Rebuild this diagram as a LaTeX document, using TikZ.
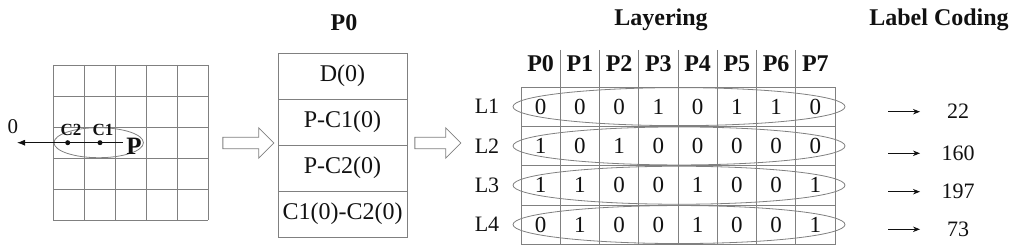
\documentclass[tikz,border=0pt]{standalone}
\usepackage{fontspec}
\setmainfont{Liberation Serif}
\usetikzlibrary{arrows.meta,positioning,shapes.arrows}
\usepackage{xcolor}
\definecolor{LineGray}{HTML}{808080}
\definecolor{Ink}{HTML}{111111}

\begin{document}
\begin{tikzpicture}[
  x=1pt, y=-1pt, line width=0.8pt,
  cell/.style={draw=LineGray, minimum width=39.25pt, minimum height=39.3pt,
               inner sep=0pt, outer sep=0pt, text=Ink, font=\fontsize{23}{23}\selectfont},
  prow/.style={draw=LineGray, minimum width=129pt, minimum height=46pt,
               inner sep=0pt, outer sep=0pt, text=Ink, font=\fontsize{24}{24}\selectfont},
  head/.style={text=Ink, font=\fontsize{24}{24}\selectfont\bfseries},
  lyr/.style={text=Ink, font=\fontsize{22}{22}\selectfont},
  small/.style={text=Ink, font=\fontsize{17}{17}\selectfont\bfseries},
  bigarrow/.style={draw=LineGray, single arrow, single arrow head extend=9.5pt,
                   single arrow tip angle=90, minimum height=51pt, inner sep=5.3pt}
]
  \useasboundingbox (0,0) rectangle (1024,248);

  %% Pixel grid (left)
  \foreach \i in {0,...,5} {
    \draw[LineGray] (53+31*\i,65) -- (53+31*\i,220);
    \draw[LineGray] (53,65+31*\i) -- (208,65+31*\i);
  }
  \draw[LineGray] (98.7,142.7) ellipse (44.7pt and 15pt);
  \coordinate (c2) at (67.7,142.7);
  \coordinate (c1) at (100,142.7);
  \coordinate (zero) at (17,142.7);
  \fill[Ink] (c2) circle (2.5pt);
  \fill[Ink] (c1) circle (2.5pt);
  \node[small] (c2lbl) at (71,130) {C2};
  \node[small] (c1lbl) at (103,130) {C1};
  \node[text=Ink, font=\fontsize{25}{25}\selectfont\bfseries] (pnt) at (134,146) {P};
  \node[text=Ink, font=\fontsize{21}{21}\selectfont] (zerolbl) at (13,127) {0};
  \draw[Ink, -{Latex[length=8pt,width=6pt]}] (pnt.west |- c1) -- (zero);

  %% Hollow arrows
  \node[bigarrow] (arr1) at (245.5,143) {};
  \node[bigarrow, minimum height=46pt] (arr2) at (435,143) {};

  %% P0 stack
  \node[head] (ptitle) at (344,23) {P0};
  \node[prow] (d0) at (342.5,76) {D(0)};
  \node[prow, below=0pt of d0] (pc1) {P-C1(0)};
  \node[prow, below=0pt of pc1] (pc2) {P-C2(0)};
  \node[prow, below=0pt of pc2] (c1c2) {C1(0)-C2(0)};

  %% Layering table
  \node[head] (ltitle) at (661,20) {Layering};
  \foreach \c in {1,...,8} {
    \pgfmathtruncatemacro{\pn}{\c-1}
    \node[head] (h\c) at ({521+39.25*(\c-0.5)},64) {P\pn};
  }
  \foreach \c in {1,...,7} {
    \draw[LineGray] (521+39.25*\c,50) -- (521+39.25*\c,87);
  }
  \foreach \row [count=\r] in {{0,0,0,1,0,1,1,0},{1,0,1,0,0,0,0,0},
                               {1,1,0,0,1,0,0,1},{0,1,0,0,1,0,0,1}} {
    \node[lyr] (l\r) at (487,{87+39.3*(\r-0.5)}) {L\r};
    \foreach \v [count=\c] in \row {
      \node[cell] (cell-\r-\c) at ({521+39.25*(\c-0.5)},{87+39.3*(\r-0.5)}) {\v};
    }
    \draw[LineGray] (679,{87+39.3*(\r-0.5)}) ellipse (166pt and 19pt);
  }

  %% Label coding
  \node[head] (ctitle) at (939,20) {Label Coding};
  \foreach \val/\yy [count=\k] in {22/111.7,160/153.3,197/191.7,73/229.3} {
    \coordinate (s\k) at (888,\yy);
    \coordinate (e\k) at (920,\yy);
    \draw[Ink, -{Stealth[length=7pt,width=5.5pt]}] (s\k) -- (e\k);
    \node[lyr] (code\k) at (958,\yy) {\val};
  }
\end{tikzpicture}
\end{document}
